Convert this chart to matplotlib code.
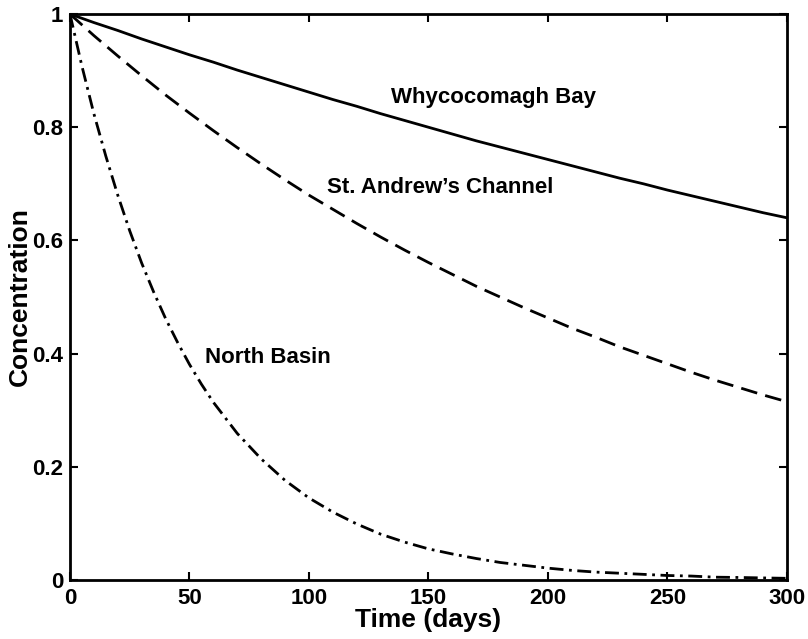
import numpy as np
import matplotlib.pyplot as plt

plt.rcParams['font.family'] = ['Liberation Sans', 'DejaVu Sans']
plt.rcParams['font.weight'] = 'bold'

# values at 10-day steps
days = [0, 10, 20, 30, 40, 50, 60, 70, 80, 90, 100, 110, 120, 130, 140, 150,
        160, 170, 180, 190, 200, 210, 220, 230, 240, 250, 260, 270, 280, 290, 300]
whycocomagh = [1.000, 0.985, 0.971, 0.956, 0.942, 0.928, 0.915, 0.901, 0.888, 0.875,
               0.862, 0.849, 0.837, 0.824, 0.812, 0.800, 0.788, 0.776, 0.765, 0.754,
               0.743, 0.732, 0.721, 0.710, 0.700, 0.689, 0.679, 0.669, 0.659, 0.649, 0.640]
st_andrews = [1.000, 0.962, 0.926, 0.891, 0.857, 0.825, 0.794, 0.764, 0.735, 0.707,
              0.680, 0.655, 0.630, 0.606, 0.583, 0.561, 0.540, 0.519, 0.500, 0.481,
              0.463, 0.445, 0.429, 0.412, 0.397, 0.382, 0.367, 0.353, 0.340, 0.327, 0.315]

# north basin drops fast, so read it more finely at the start
north_days = [0, 5, 10, 15, 20, 25, 30, 35, 40, 45, 50, 55, 60, 70, 80, 90, 100,
              110, 120, 130, 140, 150, 160, 170, 180, 190, 200, 210, 220, 230,
              240, 250, 260, 270, 280, 290, 300]
north_basin = [1.000, 0.908, 0.824, 0.749, 0.680, 0.617, 0.560, 0.509, 0.462, 0.420,
               0.381, 0.346, 0.314, 0.259, 0.214, 0.176, 0.145, 0.120, 0.099, 0.081,
               0.067, 0.055, 0.046, 0.038, 0.031, 0.026, 0.021, 0.017, 0.014, 0.012,
               0.010, 0.008, 0.007, 0.005, 0.0045, 0.0037, 0.003]

fig = plt.figure(figsize=(8.08, 6.39), dpi=100)
ax = fig.add_axes([0.0866, 0.0923, 0.8874, 0.8857])

ax.plot(days, whycocomagh, 'k-', lw=2)
ax.plot(days, st_andrews, 'k--', lw=2, dashes=(6, 3))
ax.plot(north_days, north_basin, 'k-.', lw=2, dashes=(5, 2, 1, 2))

ax.text(177, 0.853, 'Whycocomagh Bay', ha='center', va='center', fontsize=16, fontweight='bold')
ax.text(155, 0.693, 'St. Andrew\u2019s Channel', ha='center', va='center', fontsize=16, fontweight='bold')
ax.text(83, 0.394, 'North Basin', ha='center', va='center', fontsize=16, fontweight='bold')

ax.set_xlim(0, 300)
ax.set_ylim(0, 1)
ax.set_xticks([0, 50, 100, 150, 200, 250, 300])
ax.set_yticks([0, 0.2, 0.4, 0.6, 0.8, 1])
ax.set_yticklabels(['0', '0.2', '0.4', '0.6', '0.8', '1'])
ax.tick_params(direction='in', length=6, width=1.5, top=True, right=True, labelsize=16)
ax.tick_params(axis='x', pad=6)
ax.tick_params(axis='y', pad=5)
for lab in ax.get_xticklabels() + ax.get_yticklabels():
    lab.set_fontweight('bold')
for sp in ax.spines.values():
    sp.set_linewidth(2)

ax.set_xlabel('Time (days)', fontsize=19, fontweight='bold', labelpad=-1)
ax.set_ylabel('Concentration', fontsize=19, fontweight='bold', labelpad=0)

plt.savefig('out.png', dpi=100)
plt.close()
